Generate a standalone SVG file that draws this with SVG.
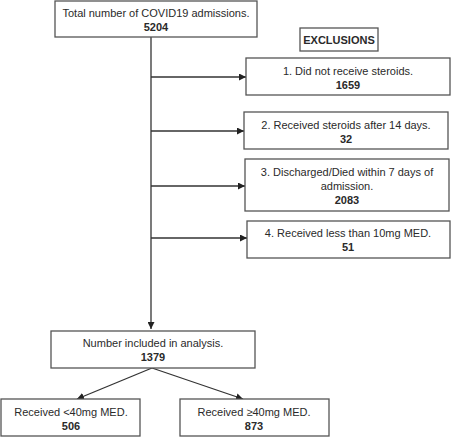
<svg xmlns="http://www.w3.org/2000/svg" width="451" height="437" viewBox="0 0 451 437">
<defs>
<marker id="ah" viewBox="0 0 10 10" refX="10" refY="5" markerWidth="7" markerHeight="7" markerUnits="userSpaceOnUse" orient="auto">
<path d="M0,0 L10,5 L0,10 z" fill="#222"/>
</marker>
</defs>
<style>
.box{fill:#fff;stroke:#555;stroke-width:1.3}
text{font-family:"Liberation Sans",Arial,sans-serif;font-size:11px;fill:#2a2a2a;text-anchor:middle}
.b{font-weight:bold}
.c{stroke:#333;stroke-width:1.3;fill:none;marker-end:url(#ah)}
</style>
<rect width="451" height="437" fill="#fff"/>
<g id="connectors">
<line x1="151" y1="37" x2="151" y2="329" class="c"/>
<line x1="151" y1="77" x2="246" y2="77" class="c"/>
<line x1="151" y1="131" x2="244" y2="131" class="c"/>
<line x1="151" y1="186" x2="245" y2="186" class="c"/>
<line x1="151" y1="238" x2="247" y2="238" class="c"/>
<line x1="152" y1="368" x2="77" y2="399" class="c"/>
<line x1="152" y1="368" x2="243" y2="399" class="c"/>
</g>
<g id="total">
<rect class="box" x="55" y="1" width="202" height="36"/>
<text x="156" y="17">Total number of COVID19 admissions.</text>
<text class="b" x="156" y="31">5204</text>
</g>
<g id="exclusions">
<rect class="box" x="300" y="28" width="78" height="23"/>
<text class="b" x="339" y="44">EXCLUSIONS</text>
</g>
<g id="ex1">
<rect class="box" x="246" y="58" width="204" height="37"/>
<text x="348" y="75">1. Did not receive steroids.</text>
<text class="b" x="348" y="89">1659</text>
</g>
<g id="ex2">
<rect class="box" x="244" y="112" width="204" height="37"/>
<text x="346" y="129">2. Received steroids after 14 days.</text>
<text class="b" x="346" y="143">32</text>
</g>
<g id="ex3">
<rect class="box" x="245" y="159" width="204" height="52"/>
<text x="347" y="176">3. Discharged/Died within 7 days of</text>
<text x="347" y="190">admission.</text>
<text class="b" x="347" y="204">2083</text>
</g>
<g id="ex4">
<rect class="box" x="247" y="221" width="203" height="37"/>
<text x="348" y="237">4. Received less than 10mg MED.</text>
<text class="b" x="348" y="251">51</text>
</g>
<g id="included">
<rect class="box" x="51" y="331" width="204" height="37"/>
<text x="153" y="347">Number included in analysis.</text>
<text class="b" x="153" y="361">1379</text>
</g>
<g id="low">
<rect class="box" x="1" y="399" width="139" height="37"/>
<text x="71" y="416">Received &lt;40mg MED.</text>
<text class="b" x="71" y="430">506</text>
</g>
<g id="high">
<rect class="box" x="180" y="399" width="149" height="37"/>
<text x="254" y="416">Received ≥40mg MED.</text>
<text class="b" x="254" y="430">873</text>
</g>
</svg>
